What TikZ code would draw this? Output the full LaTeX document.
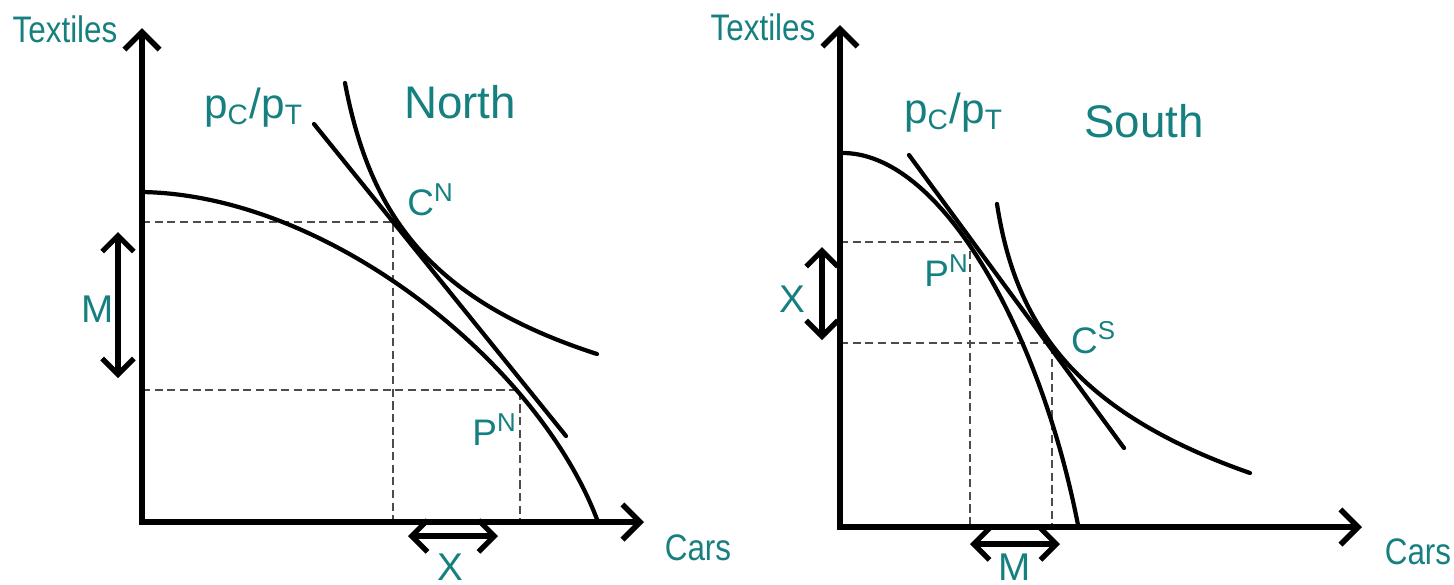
\documentclass[tikz,border=0pt]{standalone}
\usepackage{fontspec}
\setmainfont{Liberation Sans}
\usetikzlibrary{arrows.meta}
\definecolor{tealtext}{RGB}{22,128,128}

\begin{document}
\begin{tikzpicture}[x=0.01cm,y=-0.01cm,
    every node/.style={text=tealtext,inner sep=0pt,anchor=base,font=\fontsize{10.5}{12}\selectfont},
    axes/.style={line width=1.6pt,{Straight Barb[length=5pt,width=10pt]}-{Straight Barb[length=5pt,width=10pt]}},
    curve/.style={line width=1.2pt,line cap=round},
    guide/.style={line width=0.5pt,black!70,dash pattern=on 2.3pt off 1.3pt},
    trade/.style={line width=1.5pt,{Straight Barb[length=4.5pt,width=9pt]}-{Straight Barb[length=4.5pt,width=9pt]}},
    bigtitle/.style={font=\fontsize{13}{15}\selectfont},
    tag/.style={font=\fontsize{11}{13}\selectfont}]
    \useasboundingbox (0,0) rectangle (1454,584);
    % Norte: ejes, frontera, precio relativo y curva de indiferencia.
    \coordinate (ON) at (142,522);
    \coordinate (CN) at (393,222);
    \coordinate (PN) at (520,390);
    \draw[guide] (ON |- CN) -- (CN) -- (CN |- ON);
    \draw[guide] (ON |- PN) -- (PN) -- (PN |- ON);
    \draw[axes] (142,28) -- (ON) -- (644,522);
    \draw[curve] (142,192) .. controls (330,195) and (540,365) .. (598,522);
    \draw[curve] (314,124) -- (566,436);
    \draw[curve] (345,83) .. controls (370,215) and (430,300) .. (597,354);
    \draw[trade] (118,232) -- (118,378);
    \draw[trade] (408,536) -- (498,536);
    \node (textilesN) at (65,42) {\scalebox{0.85}[1]{Textiles}};
    \node (carsN) at (698,560) {\scalebox{0.85}[1]{Cars}};
    \node[bigtitle] (titleN) at (460,118) {North};
    \node[font=\fontsize{12}{14}\selectfont] (priceN) at (254,118) {p\textsubscript{C}/p\textsubscript{T}};
    \node (labCN) at (431,215) {C\textsuperscript{N}};
    \node (labPN) at (495,445) {P\textsuperscript{N}};
    \node[tag] (labMN) at (98,322) {M};
    \node[tag] (labXN) at (450,580) {X};
    % Sur.
    \coordinate (OS) at (840,527);
    \coordinate (PS) at (970,242);
    \coordinate (CS) at (1052,343);
    \draw[guide] (OS |- PS) -- (PS) -- (PS |- OS);
    \draw[guide] (OS |- CS) -- (CS) -- (CS |- OS);
    \draw[axes] (840,25) -- (OS) -- (1362,527);
    \draw[curve] (840,153) .. controls (940,150) and (1040,330) .. (1078,525);
    \draw[curve] (909,155) -- (1124,448);
    \draw[curve] (997,204) .. controls (1015,320) and (1070,410) .. (1250,473);
    \draw[trade] (822,247) -- (822,340);
    \draw[trade] (970,544) -- (1060,544);
    \node (textilesS) at (763,40) {\scalebox{0.85}[1]{Textiles}};
    \node (carsS) at (1418,564) {\scalebox{0.85}[1]{Cars}};
    \node[bigtitle] (titleS) at (1144,137) {South};
    \node[font=\fontsize{12}{14}\selectfont] (priceS) at (954,123) {p\textsubscript{C}/p\textsubscript{T}};
    \node (labPS) at (947,286) {P\textsuperscript{N}};
    \node (labCS) at (1094,353) {C\textsuperscript{S}};
    \node[tag] (labXS) at (792,312) {X};
    \node[tag] (labMS) at (1015,580) {M};
\end{tikzpicture}
\end{document}
